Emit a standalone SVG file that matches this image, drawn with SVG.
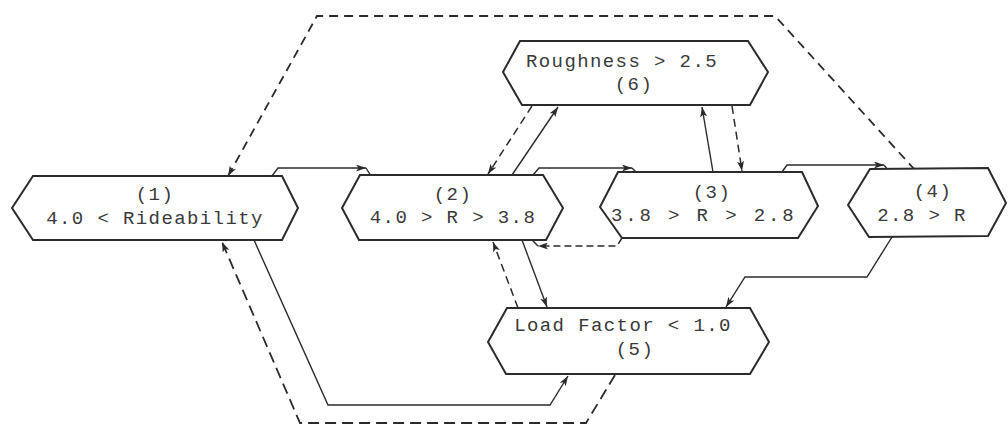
<svg xmlns="http://www.w3.org/2000/svg" width="1008" height="424" viewBox="0 0 1008 424">
  <style>
    .node { fill: #ffffff; stroke: #2b2b2b; stroke-width: 2; stroke-linejoin: miter; }
    .label { font-family: "Liberation Mono", "DejaVu Sans Mono", monospace; font-size: 19px; letter-spacing: 1.4px; fill: #3a3a3a; text-anchor: middle; }
    .flow { fill: none; stroke: #2b2b2b; stroke-width: 1.4; }
    .back { fill: none; stroke: #2b2b2b; stroke-width: 1.8; stroke-dasharray: 9 6; }
    .back-thin { fill: none; stroke: #2b2b2b; stroke-width: 1.5; stroke-dasharray: 8 5; }
  </style>
  <defs>
    <marker id="arrow" viewBox="0 0 10 7" markerWidth="10" markerHeight="7" refX="10" refY="3.5" orient="auto" markerUnits="userSpaceOnUse">
      <path d="M0,0 L10,3.5 L0,7 L2.5,3.5 Z" fill="#2b2b2b"/>
    </marker>
  </defs>

  <rect width="1008" height="424" fill="#ffffff"/>

  <!-- transitions between condition states -->
  <g id="connectors">
    <!-- solid: 1 to 2, 2 to 3, 3 to 4 over the top edges -->
    <path class="flow" d="M272,176 L278,168 L366,168" marker-end="url(#arrow)"/>
    <path class="flow" d="M366,168 L371,176"/>
    <path class="flow" d="M533,175 L539,168 L632,168" marker-end="url(#arrow)"/>
    <path class="flow" d="M632,168 L637,173"/>
    <path class="flow" d="M782,172 L787,165 L884,165" marker-end="url(#arrow)"/>
    <path class="flow" d="M884,165 L888,170"/>

    <!-- dashed: 3 back to 2 under the bottom edges -->
    <path class="back-thin" d="M622,238 L617,246 L538,246" marker-end="url(#arrow)" style="stroke-dasharray:7 4"/>
    <path class="flow" d="M538,246 L532,240"/>

    <!-- links with Roughness (6) -->
    <path class="flow" d="M512,175 L558,107" marker-end="url(#arrow)"/>
    <path class="back-thin" d="M532,106 L488,174" marker-end="url(#arrow)"/>
    <path class="flow" d="M713,172 L702,107" marker-end="url(#arrow)"/>
    <path class="back-thin" d="M732,106 L742,171" marker-end="url(#arrow)"/>

    <!-- links with Load Factor (5) -->
    <path class="flow" d="M522,240 L547,307" marker-end="url(#arrow)"/>
    <path class="back-thin" d="M518,308 L493,242" marker-end="url(#arrow)"/>
    <path class="flow" d="M254,240 L328,405 L550,405 L568,376" marker-end="url(#arrow)"/>
    <path class="back" d="M615,375 L586,423 L300,423 L222,242" marker-end="url(#arrow)" style="stroke-dasharray:11 6"/>
    <path class="flow" d="M892,237 L867,277 L745,277 L726,307" marker-end="url(#arrow)"/>

    <!-- dashed: 4 back to 1 over the top -->
    <path class="back" d="M915,170 L775,16 L317,16 L228,176" marker-end="url(#arrow)"/>
  </g>

  <g id="node1">
    <polygon class="node" points="12,208 33,176 282,176 298,208 282,240 33,240"/>
    <text class="label" x="155" y="200">(1)</text>
    <text class="label" x="155" y="224">4.0 &lt; Rideability</text>
  </g>

  <g id="node2">
    <polygon class="node" points="342,208 360,175 543,175 563,208 546,240 359,240"/>
    <text class="label" x="453" y="200">(2)</text>
    <text class="label" x="453" y="223">4.0 &gt; R &gt; 3.8</text>
  </g>

  <g id="node3">
    <polygon class="node" points="600,207 618,172 802,172 818,206 798,238 622,238"/>
    <text class="label" x="712" y="198">(3)</text>
    <text class="label" x="703" y="221" textLength="184" lengthAdjust="spacing">3.8 &gt; R &gt; 2.8</text>
  </g>

  <g id="node4">
    <polygon class="node" points="848,205 870,169 988,168 1006,203 988,236 869,237"/>
    <text class="label" x="933" y="197">(4)</text>
    <text class="label" x="922" y="221">2.8 &gt; R</text>
  </g>

  <g id="node5">
    <polygon class="node" points="488,342 507,308 750,308 769,342 750,374 506,374"/>
    <text class="label" x="623" y="331">Load Factor &lt; 1.0</text>
    <text class="label" x="635" y="355">(5)</text>
  </g>

  <g id="node6">
    <polygon class="node" points="503,72 520,41 748,41 768,72 750,105 522,105"/>
    <text class="label" x="622" y="67">Roughness &gt; 2.5</text>
    <text class="label" x="634" y="90">(6)</text>
  </g>
</svg>
